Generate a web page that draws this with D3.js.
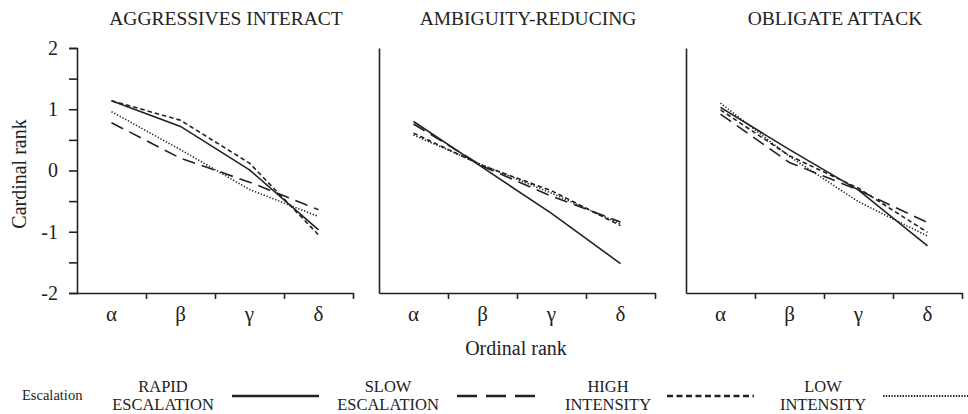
<!DOCTYPE html>
<html>
<head>
<meta charset="utf-8">
<script src="https://cdn.jsdelivr.net/npm/d3@7/dist/d3.min.js"></script>
<style>
  body { margin: 0; background: #fff; }
  svg { display: block; }
  svg text { font-family: "Liberation Serif", "DejaVu Serif", "Times New Roman", serif; fill: #222; }
  .axis path, .axis line { stroke: #222; stroke-width: 1.6; }
</style>
</head>
<body>
<svg id="chart" width="968" height="414"></svg>
<script>
// data
var ranks = ["α", "β", "γ", "δ"];
var panels = ["AGGRESSIVES INTERACT", "AMBIGUITY-REDUCING", "OBLIGATE ATTACK"];
var seriesNames = ["RAPID ESCALATION", "SLOW ESCALATION", "HIGH INTENSITY", "LOW INTENSITY"];

// one array per series, one row per panel
var rapid = [[1.14, 0.72, 0.01, -0.97], [0.80, 0.05, -0.70, -1.52], [1.03, 0.34, -0.32, -1.23]];
var slow  = [[0.78, 0.20, -0.19, -0.64], [0.76, 0.07, -0.42, -0.84], [0.92, 0.13, -0.32, -0.85]];
var high  = [[1.14, 0.82, 0.12, -1.05], [0.61, 0.08, -0.33, -0.90], [0.99, 0.24, -0.29, -1.01]];
var low   = [[0.96, 0.34, -0.31, -0.75], [0.58, 0.09, -0.37, -0.87], [1.10, 0.23, -0.51, -1.07]];
var yTicks = [-2, -1.5, -1, -0.5, 0, 0.5, 1, 1.5, 2];

var allSeries = [rapid, slow, high, low];
var dashes = [null, "13,7", "4.5,3", "1.3,1.8"];

var FONT = "'Liberation Serif', 'DejaVu Serif', serif";
var svg = d3.select("#chart");

// layout
var panelLeft = [77, 379, 686];
var panelW = 276;
var plotTop = 48, plotBottom = 293;

var y = d3.scaleLinear().domain([-2, 2]).range([plotBottom, plotTop]);
var x = d3.scaleLinear().domain([0, 4]).range([0, panelW]);

var line = d3.line()
	.x(function(d, i) { return x(i + 0.5); })
	.y(function(d) { return y(d); });

panels.forEach(function(title, p) {
	var g = svg.append("g")
		.attr("transform", "translate(" + panelLeft[p] + ",0)");

	// x axis
	g.append("g")
		.attr("class", "axis")
		.attr("transform", "translate(0," + plotBottom + ")")
		.call(d3.axisBottom(x).tickValues([1, 2, 3, 4]).tickSize(6).tickSizeOuter(0).tickFormat(""));

	// y axis, labels only on the first panel
	var yaxis = d3.axisLeft(y).tickSizeOuter(0);
	if (p === 0) {
		yaxis.tickValues(yTicks).tickSize(8)
			.tickFormat(function(d) { return d % 1 === 0 ? d : ""; });
	} else {
		yaxis.tickValues([]);
	}
	var ya = g.append("g").attr("class", "axis").call(yaxis);
	ya.attr("font-family", null);
	ya.selectAll("text")
		.style("font-family", FONT)
		.style("font-size", "20px")
		.attr("fill", "#222")
		.attr("x", -19);

	// greek rank labels
	g.selectAll(".rank")
		.data(ranks)
		.enter().append("text")
		.attr("class", "rank")
		.attr("x", function(d, i) { return x(i + 0.5); })
		.attr("y", 321)
		.attr("text-anchor", "middle")
		.style("font-family", FONT)
		.style("font-size", "21px")
		.text(function(d) { return d; });

	// title
	g.append("text")
		.attr("x", panelW / 2 + 11)
		.attr("y", 25)
		.attr("text-anchor", "middle")
		.style("font-family", FONT)
		.style("font-size", "19.5px")
		.text(title);

	// lines
	allSeries.forEach(function(s, k) {
		g.append("path")
			.attr("d", line(s[p]))
			.attr("fill", "none")
			.attr("stroke", "#222")
			.attr("stroke-width", 1.6)
			.attr("stroke-dasharray", dashes[k]);
	});
});

// axis titles
svg.append("text")
	.attr("transform", "translate(26,174) rotate(-90)")
	.attr("text-anchor", "middle")
	.style("font-family", FONT)
	.style("font-size", "20px")
	.text("Cardinal rank");

svg.append("text")
	.attr("x", 516)
	.attr("y", 355)
	.attr("text-anchor", "middle")
	.style("font-family", FONT)
	.style("font-size", "20px")
	.text("Ordinal rank");

// legend
var legendLabelX = [163, 388, 608, 823];
var legendLineX = [232, 457, 667, 883];
var legendLineW = 87;

svg.append("text")
	.attr("x", 22)
	.attr("y", 400)
	.style("font-family", FONT)
	.style("font-size", "14.5px")
	.text("Escalation");

seriesNames.forEach(function(name, k) {
	var words = name.split(" ");
	svg.append("text")
		.attr("x", legendLabelX[k])
		.attr("y", 392)
		.attr("text-anchor", "middle")
		.style("font-family", FONT)
		.style("font-size", "16.5px")
		.text(words[0]);
	svg.append("text")
		.attr("x", legendLabelX[k])
		.attr("y", 410)
		.attr("text-anchor", "middle")
		.style("font-family", FONT)
		.style("font-size", "16.5px")
		.text(words[1]);
	svg.append("line")
		.attr("x1", legendLineX[k])
		.attr("x2", legendLineX[k] + legendLineW)
		.attr("y1", 396)
		.attr("y2", 396)
		.attr("stroke", "#222")
		.attr("stroke-width", k === 3 ? 1.8 : 2.6)
		.attr("stroke-dasharray", k === 0 ? null : (k === 1 ? "20,9" : (k === 2 ? "6,3.5" : "1.4,1.4")));
});
</script>
</body>
</html>
